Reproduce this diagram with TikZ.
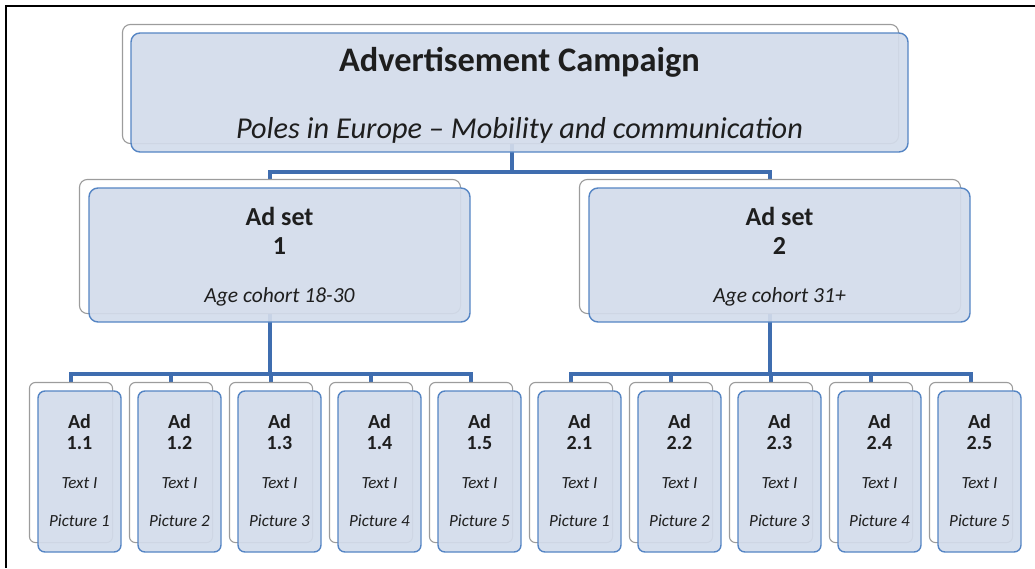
\documentclass[tikz,border=0pt]{standalone}
\usepackage{fontspec}
\setmainfont{Carlito}
\definecolor{boxfill}{HTML}{D3DCEB}
\definecolor{boxline}{HTML}{5585C4}
\definecolor{linkline}{HTML}{3F6DAF}
\definecolor{backline}{HTML}{9C9C9C}
\definecolor{inkcol}{HTML}{1E1E1E}
\tikzset{
  backbox/.style={draw=backline, line width=1.1pt, fill=white, rounded corners=#1, inner sep=0pt},
  frontbox/.style={draw=boxline, line width=1.4pt, fill=boxfill, fill opacity=0.92, rounded corners=#1, inner sep=0pt},
  link/.style={draw=linkline, line width=3.2pt},
  lbl/.style={anchor=base, text=inkcol, inner sep=0pt},
}
\begin{document}
\begin{tikzpicture}[x=1pt, y=-1pt]
\useasboundingbox (0,0) rectangle (1035,568);
\draw[line width=2.2pt] (1035,6) -- (6,6) -- (6,568);

% ---- box outlines (back layer, used for connector anchors) ----
\node[backbox=8pt, minimum width=775pt, minimum height=118pt] (topback) at (510.5,84) {};
\node[backbox=8pt, minimum width=380pt, minimum height=133pt] (s1back) at (270,246.5) {};
\node[backbox=8pt, minimum width=380pt, minimum height=133pt] (s2back) at (770,246.5) {};
\foreach \i in {0,...,4} {
  \pgfmathsetmacro{\xa}{71+100*\i}
  \pgfmathsetmacro{\xb}{571+100*\i}
  \node[backbox=6pt, minimum width=82pt, minimum height=159pt] (a1back\i) at (\xa,462.5) {};
  \node[backbox=6pt, minimum width=82pt, minimum height=159pt] (a2back\i) at (\xb,462.5) {};
}

% ---- connectors ----
\coordinate (busA) at (0,172);
\coordinate (busB) at (0,374);
\draw[link] (topback.south -| 512,0) -- (busA -| 512,0);
\draw[link] (s1back.north) |- (busA -| s2back.north) -- (s2back.north);
\draw[link] (s1back.south) -- (busB -| s1back.south);
\draw[link] (a1back0.north) |- (busB -| a1back4.north) -- (a1back4.north);
\draw[link] (s2back.south) -- (busB -| s2back.south);
\draw[link] (a2back0.north) |- (busB -| a2back4.north) -- (a2back4.north);
\foreach \i in {1,2,3} {
  \draw[link] (a1back\i.north) -- (busB -| a1back\i.north);
  \draw[link] (a2back\i.north) -- (busB -| a2back\i.north);
}

% redraw the back boxes over the connector ends
\foreach \n in {topback,s1back,s2back} {
  \draw[backline, line width=1.1pt, fill=white, rounded corners=8pt] (\n.north west) rectangle (\n.south east);
}
\foreach \i in {0,...,4} {
  \draw[backline, line width=1.1pt, fill=white, rounded corners=6pt] (a1back\i.north west) rectangle (a1back\i.south east);
  \draw[backline, line width=1.1pt, fill=white, rounded corners=6pt] (a2back\i.north west) rectangle (a2back\i.south east);
}

% ---- front boxes ----
\node[frontbox=9pt, minimum width=777pt, minimum height=119pt] (top) at (519.5,92.5) {};
\node[frontbox=9pt, minimum width=381pt, minimum height=134pt] (s1) at (279.5,255) {};
\node[frontbox=9pt, minimum width=381pt, minimum height=134pt] (s2) at (779.5,255) {};
\foreach \i in {0,...,4} {
  \pgfmathsetmacro{\xa}{79.5+100*\i}
  \pgfmathsetmacro{\xb}{579.5+100*\i}
  \node[frontbox=7pt, minimum width=83pt, minimum height=161pt] (a1\i) at (\xa,471.5) {};
  \node[frontbox=7pt, minimum width=83pt, minimum height=161pt] (a2\i) at (\xb,471.5) {};
}

% ---- texts ----
\node[lbl, font=\fontsize{34.4}{36}\selectfont\bfseries] (tt1) at (519.5,71) {Advertisement Campaign};
\node[lbl, font=\fontsize{30.3}{32}\selectfont\itshape] (tt2) at (519.5,138) {Poles in Europe – Mobility and communication};

\node[lbl, font=\fontsize{26}{28}\selectfont\bfseries] (s1t1) at (279.5,225) {Ad set};
\node[lbl, font=\fontsize{26}{28}\selectfont\bfseries] (s1t2) at (279.5,254) {1};
\node[lbl, font=\fontsize{21.5}{24}\selectfont\itshape] (s1t3) at (279.5,302) {Age cohort 18-30};
\node[lbl, font=\fontsize{26}{28}\selectfont\bfseries] (s2t1) at (779.5,225) {Ad set};
\node[lbl, font=\fontsize{26}{28}\selectfont\bfseries] (s2t2) at (779.5,254) {2};
\node[lbl, font=\fontsize{21.5}{24}\selectfont\itshape] (s2t3) at (779.5,302) {Age cohort 31+};

\foreach \g/\off in {1/0,2/500} {
  \foreach \i in {1,...,5} {
    \pgfmathsetmacro{\xc}{79.5+\off+100*(\i-1)}
    \node[lbl, font=\fontsize{20}{22}\selectfont\bfseries] (ad\g\i a) at (\xc,428) {Ad};
    \node[lbl, font=\fontsize{20}{22}\selectfont\bfseries] (ad\g\i b) at (\xc,449) {\g.\i};
    \node[lbl, font=\fontsize{17}{18}\selectfont\itshape] (ad\g\i c) at (\xc,488) {Text I};
    \node[lbl, font=\fontsize{17}{18}\selectfont\itshape] (ad\g\i d) at (\xc,526) {Picture \i};
  }
}
\end{tikzpicture}
\end{document}
